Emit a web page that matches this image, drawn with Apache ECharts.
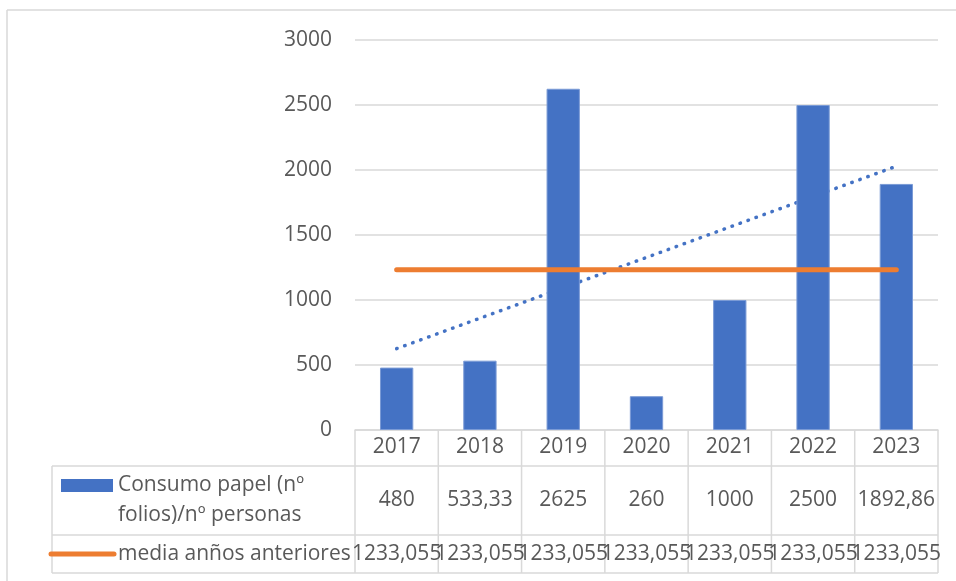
<!DOCTYPE html>
<html>
<head>
<meta charset="utf-8">
<script src="https://cdn.jsdelivr.net/npm/echarts@6/dist/echarts.min.js"></script>
<style>
html,body{margin:0;padding:0;background:#fff;}
#chart{width:956px;height:581px;}
</style>
</head>
<body>
<div id="chart"></div>
<script>
const categories = ['2017', '2018', '2019', '2020', '2021', '2022', '2023'];
const consumo = [480, 533.33, 2625, 260, 1000, 2500, 1892.86];
const media = [1233.055, 1233.055, 1233.055, 1233.055, 1233.055, 1233.055, 1233.055];
const trend = [626, null, null, null, null, null, 2029];
const consumoName = 'Consumo papel (nº folios)/nº personas';
const consumoLines = ['Consumo papel (nº', 'folios)/nº personas'];
const mediaName = 'media anños anteriores';
const yMin = 0, yMax = 3000, yInterval = 500;

const FONT = 'Open Sans';
const FS = 21;
const TXT = '#595959';
const GRIDC = '#D9D9D9';
const BLUE = '#4472C4';
const ORANGE = '#ED7D31';

const GL = 355, GR = 18, GT = 40, GB = 151;

const chart = echarts.init(document.getElementById('chart'));
const fmt = v => String(v).replace('.', ',');
const font = FS + 'px "' + FONT + '"';

chart.setOption({
  animation: false,
  textStyle: { fontFamily: FONT },
  grid: { left: GL, right: GR, top: GT, bottom: GB, containLabel: false },
  xAxis: {
    type: 'category',
    data: categories,
    axisLine: { show: true, lineStyle: { color: GRIDC, width: 1.5 } },
    axisTick: { show: false },
    axisLabel: { color: TXT, fontSize: FS, fontFamily: FONT, margin: 17, verticalAlign: 'middle' }
  },
  yAxis: {
    type: 'value',
    min: yMin, max: yMax, interval: yInterval,
    axisLine: { show: false },
    axisTick: { show: false },
    splitLine: { lineStyle: { color: GRIDC, width: 1.5 } },
    axisLabel: { color: TXT, fontSize: FS, fontFamily: FONT, margin: 23, formatter: v => String(v) }
  },
  series: [
    {
      name: 'tendencia',
      type: 'line',
      data: trend,
      connectNulls: true,
      symbol: 'none',
      z: 1,
      lineStyle: { color: BLUE, width: 3.5, type: [0.5, 8], cap: 'round' }
    },
    {
      name: consumoName,
      type: 'bar',
      data: consumo,
      barWidth: '40%',
      z: 2,
      itemStyle: { color: BLUE, borderColor: '#7b9bd6', borderWidth: 1 }
    },
    {
      name: mediaName,
      type: 'line',
      data: media,
      symbol: 'none',
      z: 3,
      lineStyle: { color: ORANGE, width: 5, cap: 'round' }
    }
  ]
});

// data table below the axis
const c0 = chart.convertToPixel({ xAxisIndex: 0 }, categories[0]);
const c1 = chart.convertToPixel({ xAxisIndex: 0 }, categories[1]);
const band = c1 - c0;
const axisY = chart.convertToPixel({ yAxisIndex: 0 }, 0);
const tableLeft = 52;
const plotLeft = c0 - band / 2;
const plotRight = plotLeft + band * categories.length;
const yH = axisY + 36, yR1 = axisY + 105, yR2 = axisY + 143;
const lineStyle = { stroke: GRIDC, lineWidth: 1.5 };
const g = [];
g.push({ type: 'line', shape: { x1: 7, y1: 10, x2: 7, y2: 581 }, style: lineStyle, silent: true });
g.push({ type: 'line', shape: { x1: 7, y1: 10, x2: 956, y2: 10 }, style: lineStyle, silent: true });
[yH, yR1, yR2].forEach(y => g.push({ type: 'line', shape: { x1: tableLeft, y1: y, x2: plotRight, y2: y }, style: lineStyle, silent: true }));
g.push({ type: 'line', shape: { x1: tableLeft, y1: yH, x2: tableLeft, y2: yR2 }, style: lineStyle, silent: true });
for (let i = 0; i <= categories.length; i++) {
  const x = plotLeft + band * i;
  g.push({ type: 'line', shape: { x1: x, y1: axisY, x2: x, y2: yR2 }, style: lineStyle, silent: true });
}
g.push({ type: 'rect', shape: { x: 61, y: 479, width: 52, height: 13 }, style: { fill: BLUE }, silent: true });
g.push({ type: 'line', shape: { x1: 51, y1: (yR1 + yR2) / 2, x2: 114, y2: (yR1 + yR2) / 2 }, style: { stroke: ORANGE, lineWidth: 5, lineCap: 'round' }, silent: true });
g.push({ type: 'text', style: { text: consumoLines[0], x: 118, y: (yH + yR1) / 2 - 15, fill: TXT, font: font, verticalAlign: 'middle' }, silent: true });
g.push({ type: 'text', style: { text: consumoLines[1], x: 118, y: (yH + yR1) / 2 + 15, fill: TXT, font: font, verticalAlign: 'middle' }, silent: true });
g.push({ type: 'text', style: { text: mediaName, x: 118, y: (yR1 + yR2) / 2, fill: TXT, font: font, verticalAlign: 'middle' }, silent: true });
categories.forEach((c, i) => {
  const cx = chart.convertToPixel({ xAxisIndex: 0 }, c);
  g.push({ type: 'text', style: { text: fmt(consumo[i]), x: cx, y: (yH + yR1) / 2, fill: TXT, font: font, align: 'center', verticalAlign: 'middle' }, silent: true });
  g.push({ type: 'text', style: { text: fmt(media[i]), x: cx, y: (yR1 + yR2) / 2, fill: TXT, font: font, align: 'center', verticalAlign: 'middle' }, silent: true });
});
chart.setOption({ graphic: g });
</script>
</body>
</html>
